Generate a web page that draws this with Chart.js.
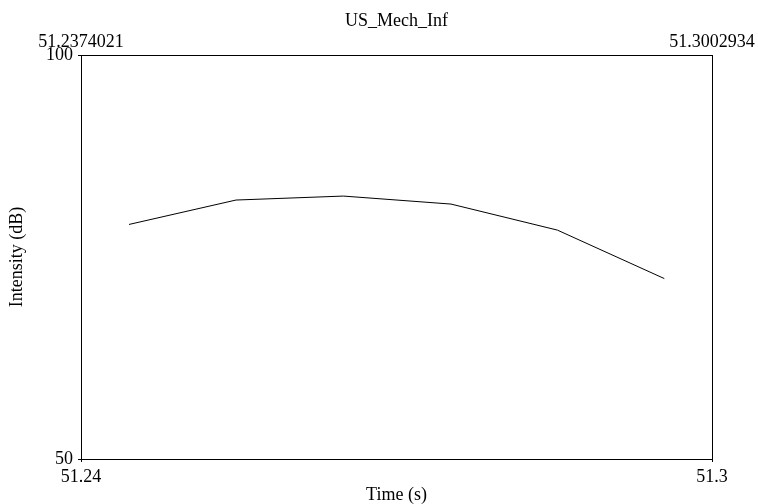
<!DOCTYPE html>
<html>
<head>
<meta charset="utf-8">
<script src="https://cdn.jsdelivr.net/npm/chart.js@4/dist/chart.umd.min.js"></script>
<style>
  html, body { margin: 0; padding: 0; background: #fff; }
  #wrap { width: 758px; height: 504px; }
</style>
</head>
<body>
<div id="wrap"><canvas id="intensityChart"></canvas></div>
<script>
// data
const chartTitle = "US_Mech_Inf";
const timeStart = 51.2374021;
const timeEnd = 51.3002934;
const times = [51.24219, 51.25285, 51.26355, 51.27428, 51.28488, 51.29554];
const intensity = [79.03, 82.05, 82.54, 81.55, 78.33, 72.33];
const yTicks = [50, 100];
const bottomTickLabels = ["51.24", "51.3"];
const topTickLabels = ["51.2374021", "51.3002934"];

const serif = "'Liberation Serif', 'Times New Roman', serif";
const fontMain = { family: serif, size: 18 };

const points = times.map((t, i) => ({ x: t, y: intensity[i] }));

function fixSize(prop, val) {
  return function (scale) {
    scale[prop] = val;
  };
}

new Chart(document.getElementById("intensityChart"), {
  type: "line",
  data: {
    datasets: [
      {
        data: points,
        borderColor: "#000",
        borderWidth: 1,
        pointRadius: 0,
        tension: 0,
        fill: false,
      },
    ],
  },
  options: {
    responsive: true,
    maintainAspectRatio: false,
    animation: false,
    layout: { padding: 0 },
    plugins: {
      legend: { display: false },
      title: { display: false },
      tooltip: { enabled: false },
    },
    scales: {
      x: {
        type: "linear",
        position: "bottom",
        min: timeStart,
        max: timeEnd,
        afterBuildTicks: (s) => {
          s.ticks = [{ value: timeStart }, { value: timeEnd }];
        },
        afterFit: fixSize("height", 45),
        grid: { drawOnChartArea: false, tickLength: 3, color: "#000" },
        border: { color: "#000", width: 1 },
        ticks: {
          color: "#000",
          font: fontMain,
          padding: 4,
          maxRotation: 0,
          autoSkip: false,
          callback: (v, i) => bottomTickLabels[i],
        },
        title: {
          display: true,
          text: "Time (s)",
          color: "#000",
          font: fontMain,
          padding: { top: 0, bottom: -2 },
        },
      },
      x2: {
        type: "linear",
        position: "top",
        min: timeStart,
        max: timeEnd,
        afterBuildTicks: (s) => {
          s.ticks = [{ value: timeStart }, { value: timeEnd }];
        },
        afterFit: fixSize("height", 55),
        grid: { display: false },
        border: { color: "#000", width: 1 },
        ticks: {
          color: "#000",
          font: fontMain,
          padding: -6,
          maxRotation: 0,
          autoSkip: false,
          callback: (v, i) => topTickLabels[i],
        },
        title: {
          display: true,
          text: chartTitle,
          color: "#000",
          font: fontMain,
          padding: { top: 10, bottom: 0 },
        },
      },
      y: {
        position: "left",
        min: 50,
        max: 100,
        afterBuildTicks: (s) => {
          s.ticks = yTicks.map((v) => ({ value: v }));
        },
        afterFit: fixSize("width", 81),
        grid: { drawOnChartArea: false, tickLength: 3, color: "#000" },
        border: { color: "#000", width: 1 },
        ticks: {
          color: "#000",
          font: fontMain,
          padding: 5,
          autoSkip: false,
        },
        title: {
          display: true,
          text: "Intensity (dB)",
          color: "#000",
          font: fontMain,
          padding: { top: 6, bottom: 0 },
        },
      },
      y2: {
        position: "right",
        min: 50,
        max: 100,
        afterFit: fixSize("width", 46),
        grid: { display: false },
        border: { color: "#000", width: 1 },
        ticks: { display: false },
      },
    },
  },
});
</script>
</body>
</html>
